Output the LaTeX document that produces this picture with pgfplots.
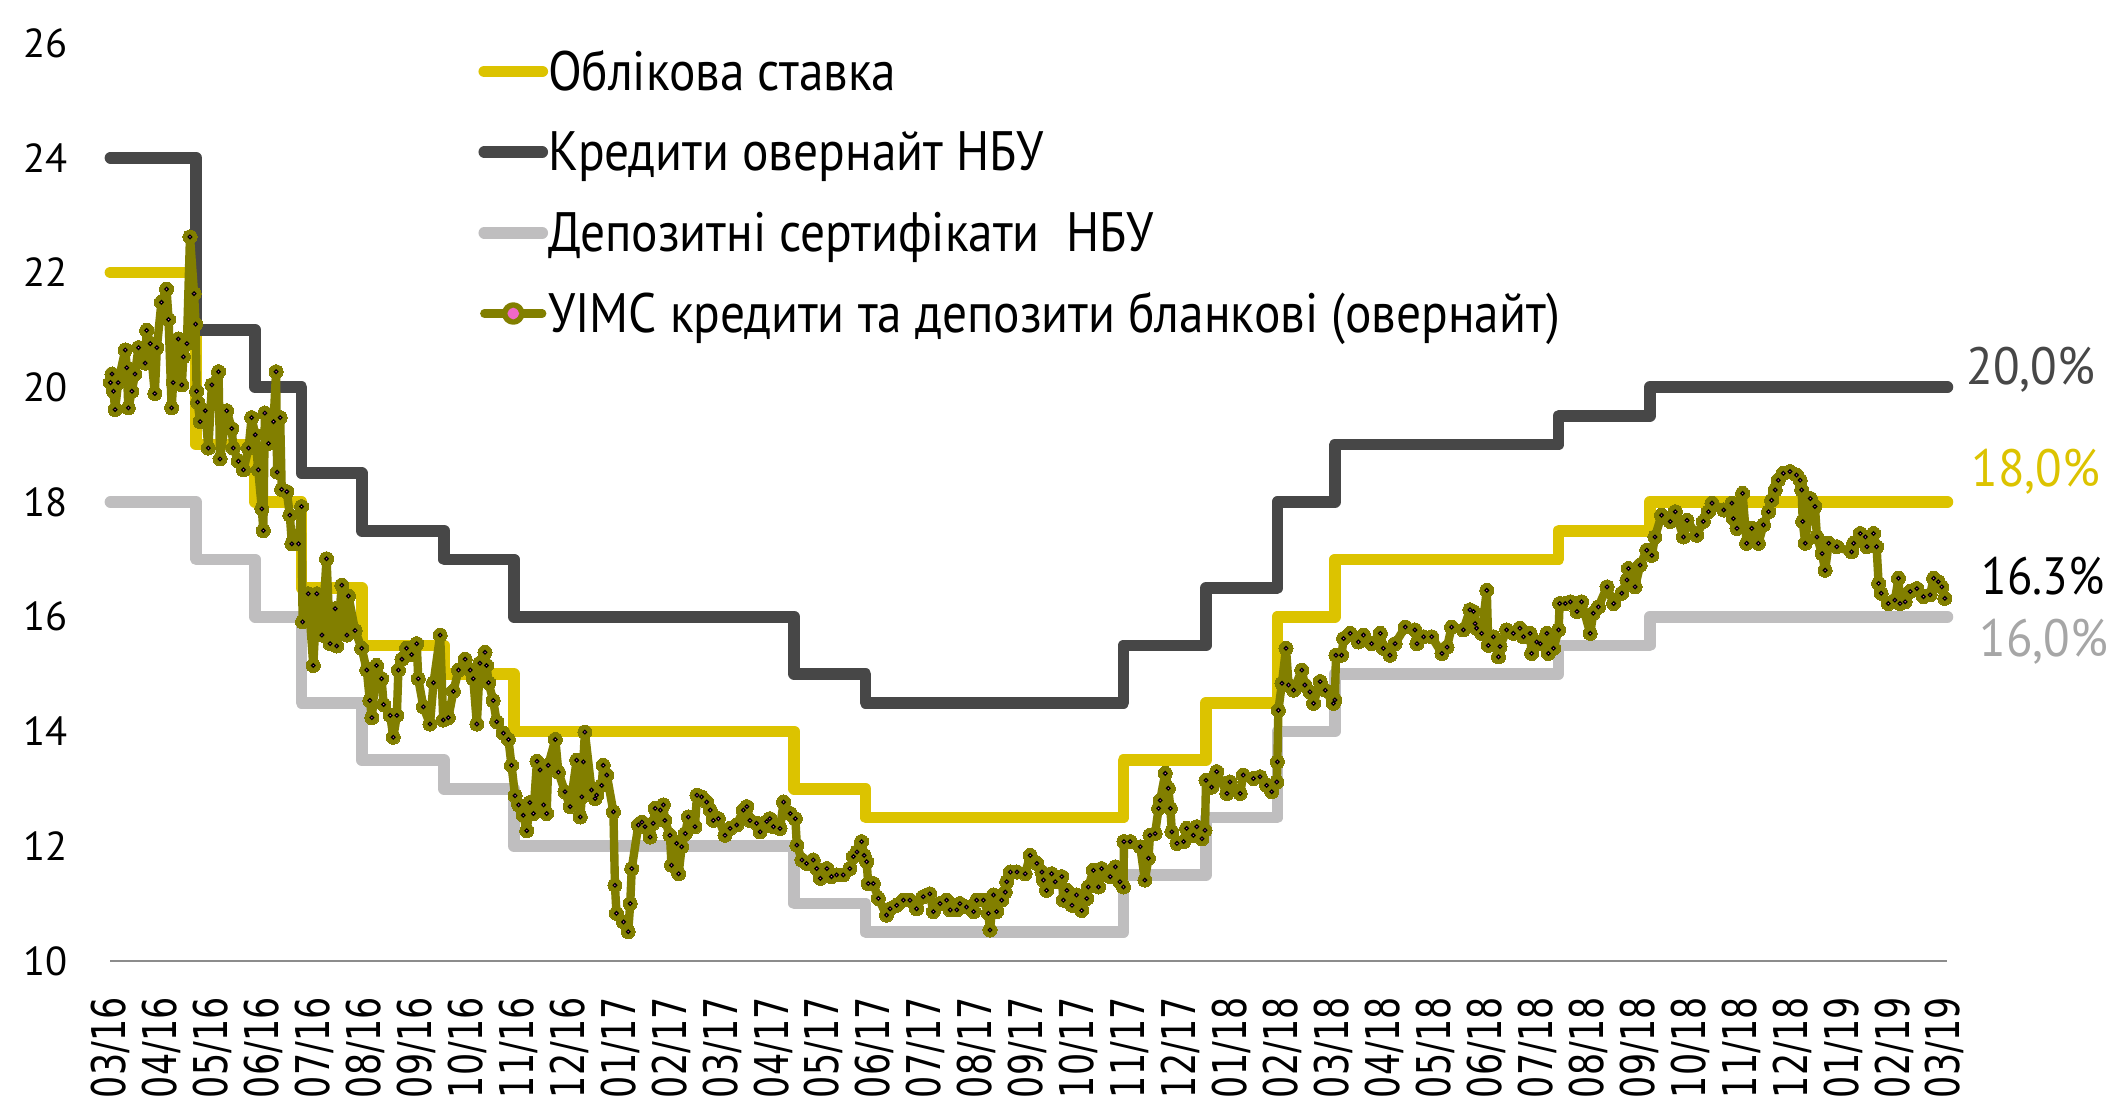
\documentclass[border=0pt]{standalone}
\usepackage{fontspec}
\setmainfont{PT Sans}
\newfontfamily\legfont[FakeStretch=0.89]{PT Sans}
\newfontfamily\labfont[FakeStretch=0.93]{PT Sans}
\newfontfamily\xtfont[FakeStretch=0.75]{DejaVu Sans}
\usepackage{pgfplots}
\usepackage{pgfplotstable}
\pgfplotsset{compat=1.18}
\definecolor{cYel}{HTML}{DCC300}
\definecolor{cDark}{HTML}{474747}
\definecolor{cLight}{HTML}{BFBEBF}
\definecolor{cOl}{HTML}{827F00}
\definecolor{cPink}{HTML}{F068C8}
\definecolor{cAxis}{HTML}{8C8C8C}
\definecolor{cLab}{HTML}{A6A6A6}

\pgfplotstableread{
x y
0 22
1.68 19
2.84 18
3.75 16.5
4.93 15.5
6.55 15
7.92 14
13.42 13
14.82 12.5
19.88 13.5
21.50 14.5
22.90 16
24.03 17
28.42 17.5
30.21 18
36.05 18
}\yel

\pgfplotstableread{
x y
0 24
1.68 21
2.84 20
3.75 18.5
4.93 17.5
6.55 17
7.92 16
13.42 15
14.82 14.5
19.88 15.5
21.50 16.5
22.90 18
24.03 19
28.42 19.5
30.21 20
36.05 20
}\dark

\pgfplotstableread{
x y
0 18
1.68 17
2.84 16
3.75 14.5
4.93 13.5
6.55 13
7.92 12
13.42 11
14.82 10.5
19.88 11.5
21.50 12.5
22.90 14
24.03 15
28.42 15.5
30.21 16
36.05 16
}\light

\pgfplotstableread{
x y
0.00 20.08
0.03 20.23
0.06 19.93
0.09 19.61
0.15 20.08
0.29 20.65
0.32 20.34
0.35 19.64
0.42 19.93
0.48 20.23
0.55 20.69
0.68 20.42
0.71 20.99
0.78 20.76
0.87 19.89
0.91 20.69
1.00 21.48
1.10 21.71
1.14 21.18
1.20 19.64
1.23 20.08
1.33 20.84
1.40 20.04
1.43 20.53
1.50 20.76
1.56 22.62
1.64 21.63
1.67 21.10
1.69 19.93
1.71 19.74
1.76 19.40
1.86 19.59
1.92 18.94
1.99 20.04
2.12 20.27
2.15 18.75
2.28 19.59
2.38 19.28
2.41 18.94
2.51 18.71
2.61 18.56
2.71 18.94
2.77 19.47
2.84 19.17
2.90 18.56
2.97 17.88
3.00 17.50
3.03 19.55
3.10 19.02
3.20 19.40
3.25 20.27
3.27 18.52
3.33 19.47
3.36 18.22
3.46 18.18
3.52 17.77
3.56 17.27
3.69 17.27
3.75 17.92
3.77 15.91
3.88 16.40
3.98 15.15
4.05 16.40
4.15 15.68
4.24 17.01
4.31 15.53
4.41 16.14
4.44 15.49
4.54 16.55
4.64 15.68
4.67 16.36
4.80 15.76
4.93 15.45
5.03 15.07
5.09 14.54
5.13 14.24
5.22 15.15
5.32 14.92
5.36 14.47
5.49 14.28
5.55 13.90
5.62 14.28
5.65 15.07
5.72 15.26
5.81 15.45
5.91 15.34
6.01 15.53
6.04 14.92
6.14 14.43
6.27 14.13
6.34 14.85
6.47 15.68
6.53 14.20
6.63 14.24
6.73 14.70
6.83 15.07
6.96 15.26
7.06 15.07
7.12 14.92
7.19 14.13
7.25 15.19
7.35 15.38
7.38 15.15
7.42 14.85
7.51 14.54
7.58 14.17
7.71 13.97
7.81 13.86
7.87 13.41
7.94 12.88
8.01 12.72
8.10 12.54
8.17 12.27
8.23 12.76
8.30 12.57
8.37 13.48
8.43 13.33
8.50 12.72
8.56 12.57
8.59 13.41
8.73 13.86
8.79 13.29
8.92 12.95
9.02 12.69
9.15 13.50
9.22 12.51
9.25 12.86
9.28 13.47
9.31 13.99
9.44 12.98
9.51 12.83
9.54 12.89
9.64 13.06
9.67 13.41
9.74 13.24
9.87 12.60
9.90 11.32
9.93 10.83
10.07 10.68
10.16 10.51
10.20 11.00
10.23 11.61
10.36 12.37
10.43 12.42
10.49 12.34
10.59 12.16
10.65 12.40
10.69 12.66
10.79 12.63
10.85 12.72
10.88 12.45
10.98 12.19
11.01 11.67
11.11 12.05
11.15 11.52
11.21 11.99
11.28 12.22
11.34 12.51
11.47 12.34
11.51 12.89
11.60 12.86
11.70 12.77
11.77 12.63
11.83 12.45
11.93 12.48
12.06 12.19
12.16 12.31
12.29 12.37
12.42 12.63
12.49 12.69
12.55 12.45
12.68 12.40
12.75 12.25
12.88 12.43
12.94 12.48
13.01 12.34
13.14 12.31
13.21 12.77
13.34 12.57
13.44 12.48
13.47 12.02
13.57 11.76
13.66 11.70
13.79 11.76
13.86 11.61
13.93 11.44
14.06 11.61
14.15 11.47
14.25 11.50
14.38 11.50
14.51 11.61
14.58 11.82
14.65 11.90
14.74 12.08
14.79 11.84
14.84 11.73
14.87 11.35
14.97 11.35
15.07 11.09
15.23 10.80
15.30 10.91
15.43 10.97
15.56 11.06
15.69 11.06
15.82 10.91
15.95 11.12
16.08 11.17
16.15 10.86
16.28 11.00
16.41 11.06
16.48 10.89
16.61 10.89
16.67 11.00
16.80 10.94
16.94 10.86
17.00 11.06
17.13 11.06
17.23 10.83
17.26 10.54
17.33 11.15
17.39 10.86
17.49 11.06
17.56 11.20
17.59 11.38
17.66 11.55
17.79 11.55
17.95 11.52
18.05 11.84
18.18 11.70
18.28 11.55
18.31 11.41
18.37 11.23
18.47 11.52
18.54 11.38
18.67 11.47
18.70 11.06
18.77 11.23
18.87 10.97
18.96 11.15
19.06 10.88
19.16 11.09
19.19 11.29
19.29 11.58
19.39 11.29
19.45 11.61
19.62 11.47
19.72 11.64
19.81 11.38
19.88 11.29
19.89 12.08
20.01 12.08
20.21 11.99
20.30 11.41
20.37 11.79
20.40 12.19
20.50 12.22
20.57 12.66
20.60 12.80
20.70 13.27
20.76 13.01
20.80 12.66
20.83 12.25
20.93 12.05
21.06 12.08
21.12 12.31
21.25 12.19
21.32 12.34
21.42 12.13
21.48 12.28
21.50 13.15
21.61 13.03
21.71 13.30
21.91 12.92
21.97 13.12
22.17 12.92
22.23 13.24
22.43 13.18
22.56 13.21
22.69 13.06
22.79 12.95
22.89 13.12
22.90 13.47
22.92 14.37
22.99 14.84
23.07 15.45
23.12 14.81
23.22 14.72
23.38 15.07
23.44 14.81
23.54 14.69
23.61 14.49
23.74 14.87
23.84 14.72
24.00 14.49
24.03 14.55
24.05 15.33
24.16 15.33
24.20 15.62
24.33 15.71
24.49 15.56
24.59 15.68
24.75 15.53
24.92 15.71
24.98 15.45
25.11 15.33
25.21 15.53
25.41 15.82
25.60 15.77
25.64 15.53
25.77 15.65
25.93 15.65
26.13 15.36
26.23 15.47
26.32 15.82
26.55 15.77
26.68 16.12
26.75 16.09
26.78 15.88
26.81 15.80
26.91 15.71
27.01 16.46
27.04 15.50
27.14 15.65
27.24 15.30
27.27 15.48
27.40 15.77
27.53 15.71
27.66 15.80
27.73 15.65
27.86 15.71
27.89 15.36
27.99 15.56
28.06 15.53
28.19 15.71
28.22 15.36
28.32 15.45
28.42 15.77
28.44 16.23
28.55 16.23
28.65 16.26
28.78 16.09
28.87 16.26
29.04 15.71
29.10 16.06
29.20 16.17
29.37 16.52
29.50 16.23
29.66 16.41
29.76 16.64
29.79 16.84
29.92 16.52
30.02 16.90
30.15 17.16
30.25 17.07
30.31 17.39
30.44 17.77
30.61 17.66
30.71 17.83
30.87 17.39
30.94 17.68
31.13 17.42
31.26 17.66
31.36 17.83
31.43 17.98
31.66 17.86
31.82 17.98
31.85 17.71
31.92 17.54
32.03 18.15
32.11 17.28
32.21 17.54
32.34 17.28
32.44 17.60
32.54 17.83
32.60 18.03
32.67 18.21
32.73 18.38
32.83 18.50
32.96 18.53
33.09 18.47
33.16 18.38
33.19 18.21
33.21 17.66
33.26 17.28
33.36 18.06
33.45 17.92
33.49 17.39
33.59 17.10
33.65 16.81
33.72 17.28
33.88 17.22
34.17 17.13
34.21 17.28
34.34 17.45
34.44 17.39
34.47 17.22
34.60 17.45
34.66 17.22
34.70 16.58
34.75 16.41
34.89 16.23
35.02 16.29
35.09 16.67
35.12 16.23
35.22 16.26
35.32 16.44
35.45 16.49
35.58 16.35
35.71 16.38
35.78 16.67
35.87 16.61
35.94 16.52
36.00 16.32
}\uims

\begin{document}
\begin{tikzpicture}
\useasboundingbox (0,0) rectangle (704.33pt,368.33pt);
\begin{axis}[
  at={(36.83pt,48pt)}, anchor=south west,
  scale only axis, width=612.3pt, height=306pt,
  xmin=0, xmax=36.05, ymin=10, ymax=26,
  clip=false,
  axis x line*=bottom, axis y line*=left,
  x axis line style={draw=cAxis, line width=0.75pt, -},
  y axis line style={draw=none},
  major tick length=0pt,
  ytick={10,12,14,16,18,20,22,24,26},
  yticklabels={10,12,14,16,18,20,22,24,26},
  yticklabel style={anchor=east, inner sep=0pt, font=\fontsize{13.5}{14}\selectfont},
  yticklabel shift=14.2pt,
  xtick={0,1,...,36},
  xticklabels={03/16,04/16,05/16,06/16,07/16,08/16,09/16,10/16,11/16,12/16,01/17,02/17,03/17,04/17,05/17,06/17,07/17,08/17,09/17,10/17,11/17,12/17,01/18,02/18,03/18,04/18,05/18,06/18,07/18,08/18,09/18,10/18,11/18,12/18,01/19,02/19,03/19},
  xticklabel style={rotate=90, anchor=east, inner sep=0pt, font=\xtfont\fontsize{15.5}{16}\selectfont},
  xticklabel shift=12pt,
  legend cell align=left,
  legend style={at={(0.200,0.995)}, anchor=north west, draw=none, fill=none,
    inner sep=0pt, row sep=11.4pt,
    font=\legfont\fontsize{18.5}{20}\selectfont,
    nodes={inner sep=0pt},
    /tikz/every odd column/.append style={column sep=0pt},
    /tikz/every even column/.append style={text height=14pt, text depth=4.5pt}},
  legend image code/.code={\draw[#1] (0pt,0pt) -- (19.3pt,0pt);},
]
\addplot[cYel, line width=3.9pt, const plot, line join=round, line cap=round] table {\yel};
\addlegendentry{Облікова ставка}
\addplot[cDark, line width=3.9pt, const plot, line join=round, line cap=round] table {\dark};
\addlegendentry{Кредити овернайт НБУ}
\addplot[cLight, line width=3.9pt, const plot, line join=round, line cap=round] table {\light};
\addlegendentry{Депозитні сертифікати \ НБУ}
\addplot[cOl, line width=2.8pt, line join=round, mark=*, mark size=2.35pt,
  mark options={fill=cOl, draw=cOl, line width=0pt},
  legend image code/.code={\draw[cOl, line width=2.8pt, line cap=round] (0pt,0pt) -- (19.3pt,0pt);
     \fill[cOl] (9.65pt,0pt) circle (2.35pt); \fill[cPink] (9.65pt,0pt) circle (0.55pt);}]
  table {\uims};
\addlegendentry{УІМС кредити та депозити бланкові (овернайт)}
\addplot[only marks, mark=*, mark size=0.6pt, mark options={fill=cPink, draw=none}, forget plot] table {\uims};

\node[anchor=west, inner sep=0pt, text=cDark, font=\labfont\fontsize{17.5}{18}\selectfont] at (axis cs:36.05,20.3) [xshift=6.2pt] {20,0\%};
\node[anchor=west, inner sep=0pt, text=cYel, font=\labfont\fontsize{17.5}{18}\selectfont] at (axis cs:36.05,18.53) [xshift=7.9pt] {18,0\%};
\node[anchor=west, inner sep=0pt, text=black, font=\legfont\fontsize{17.5}{18}\selectfont] at (axis cs:36.05,16.71) [xshift=11.2pt] {16.3\%};
\node[anchor=west, inner sep=0pt, text=cLab, font=\labfont\fontsize{17.5}{18}\selectfont] at (axis cs:36.05,15.56) [xshift=10.5pt] {16,0\%};
\end{axis}
\end{tikzpicture}
\end{document}
